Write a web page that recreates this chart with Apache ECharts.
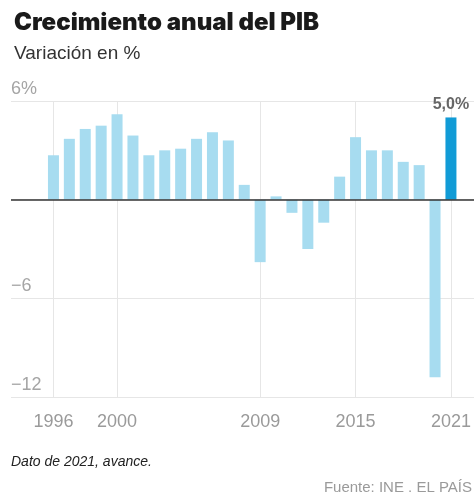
<!DOCTYPE html>
<html>
<head>
<meta charset="utf-8">
<script src="https://cdn.jsdelivr.net/npm/echarts@6/dist/echarts.min.js"></script>
<style>
  html, body { margin: 0; padding: 0; background: #fff; }
  #chart { width: 474px; height: 500px; }
</style>
</head>
<body>
<div id="chart"></div>
<script>
// Annual GDP growth in Spain, % change
const years = [1996, 1997, 1998, 1999, 2000, 2001, 2002, 2003, 2004, 2005, 2006, 2007, 2008,
               2009, 2010, 2011, 2012, 2013, 2014, 2015, 2016, 2017, 2018, 2019, 2020, 2021];
const growth = [2.7, 3.7, 4.3, 4.5, 5.2, 3.9, 2.7, 3.0, 3.1, 3.7, 4.1, 3.6, 0.9,
                -3.8, 0.2, -0.8, -3.0, -1.4, 1.4, 3.8, 3.0, 3.0, 2.3, 2.1, -10.8, 5.0];
const labelledYears = [1996, 2000, 2009, 2015, 2021];
const highlightYear = 2021;
const yTicks = { min: -12, max: 6, step: 6 };

const FONT = '"Liberation Sans", Arial, sans-serif';
const TITLE_FONT = 'Inter, "Liberation Sans", Arial, sans-serif';
const LIGHT = '#a7dcf0';
const DARK = '#119bd6';

const fmtPct = v => v.toFixed(1).replace('.', ',') + '%';

const barData = years.map((y, i) => {
  const item = { value: [y, growth[i]] };
  if (y === highlightYear) {
    item.itemStyle = { color: DARK };
    item.label = {
      show: true, position: 'top', distance: 5,
      formatter: p => fmtPct(p.value[1]),
      fontFamily: FONT, fontWeight: 'bold', fontSize: 16, color: '#666'
    };
  }
  return item;
});

const chart = echarts.init(document.getElementById('chart'), null, { renderer: 'canvas' });
chart.setOption({
  animation: false,
  backgroundColor: '#fff',
  title: {
    text: 'Crecimiento anual del PIB',
    subtext: 'Variación en %',
    left: 9, top: 6, itemGap: 9,
    textStyle: { fontFamily: TITLE_FONT, fontWeight: 900, fontSize: 24, color: '#1a1a1a' },
    subtextStyle: { fontFamily: FONT, fontSize: 19, color: '#333' }
  },
  grid: { left: 11, right: 0, top: 101, bottom: 103, containLabel: false },
  xAxis: {
    type: 'value',
    min: 1993.33, max: 2022.45,
    axisLine: { show: false, onZero: false },
    splitLine: { show: false },
    axisTick: {
      show: true, inside: true, length: 296,
      customValues: labelledYears,
      lineStyle: { color: '#e6e6e6', width: 1 }
    },
    axisLabel: {
      customValues: labelledYears,
      margin: 16,
      formatter: v => String(v),
      fontFamily: FONT, fontSize: 18, color: '#9a9a9a'
    }
  },
  yAxis: {
    type: 'value',
    min: yTicks.min, max: yTicks.max, interval: yTicks.step,
    axisLine: { show: false },
    axisTick: { show: false },
    splitLine: { lineStyle: { color: '#e6e6e6', width: 1 } },
    axisLabel: {
      inside: true, margin: 0, align: 'left', verticalAlign: 'bottom',
      padding: [0, 0, 3, 0],
      fontFamily: FONT, fontSize: 18, color: '#a5a5a5',
      formatter: v => v === 0 ? '' : (v === yTicks.max ? v + '%' : String(v).replace('-', '−'))
    }
  },
  series: [{
    type: 'bar',
    barWidth: 11,
    itemStyle: { color: LIGHT },
    data: barData,
    markLine: {
      silent: true, symbol: 'none', z: 6,
      label: { show: false },
      lineStyle: { color: '#333', width: 1.5, type: 'solid' },
      data: [{ yAxis: 0 }]
    }
  }],
  graphic: [
    {
      type: 'text', left: 11, top: 455,
      style: { text: 'Dato de 2021, avance.', fontFamily: FONT, fontStyle: 'italic', fontSize: 14, fill: '#222' }
    },
    {
      type: 'text', right: 2, top: 480,
      style: { text: 'Fuente: INE . EL PAÍS', fontFamily: FONT, fontSize: 15, fill: '#9a9a9a' }
    }
  ]
});
</script>
</body>
</html>
